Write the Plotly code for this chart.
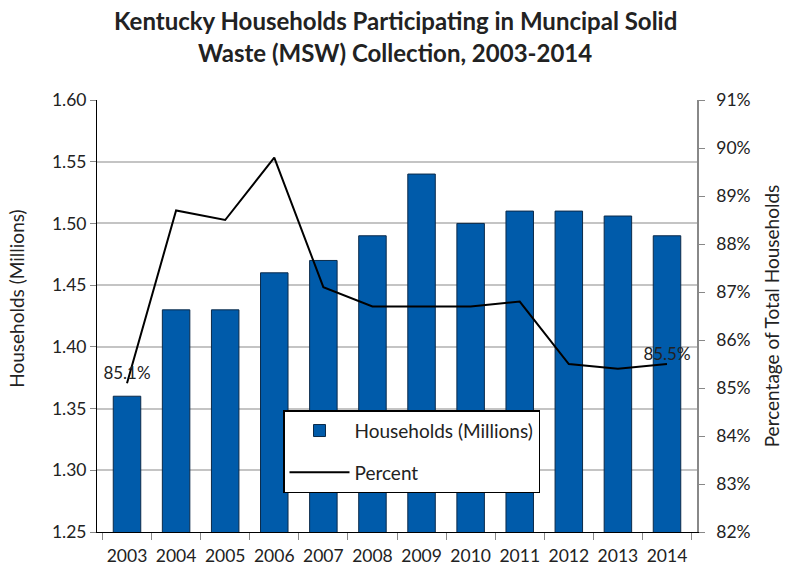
import plotly.graph_objects as go

years = ["2003", "2004", "2005", "2006", "2007", "2008", "2009", "2010", "2011", "2012", "2013", "2014"]
households = [1.36, 1.43, 1.43, 1.46, 1.47, 1.49, 1.54, 1.50, 1.51, 1.51, 1.506, 1.49]
percent = [85.1, 88.7, 88.5, 89.8, 87.1, 86.7, 86.7, 86.7, 86.8, 85.5, 85.4, 85.5]
pct_labels = ["85.1%", "", "", "", "", "", "", "", "", "", "", "85.5%"]
title_lines = ["Kentucky Households Participating in Muncipal Solid",
               "Waste (MSW) Collection, 2003-2014"]

font = "Lato, Open Sans, Liberation Sans, Arial"

fig = go.Figure()
fig.add_trace(go.Bar(
    x=years, y=households, name="Households (Millions)", legendgroup="a",
    marker=dict(color="#005BAA", line=dict(color="#0B2A4A", width=1)),
))
fig.add_trace(go.Scatter(
    x=years, y=percent, name="Percent", yaxis="y2", legendgroup="b",
    mode="lines+text", text=pct_labels, textposition="top center",
    textfont=dict(size=17, color="#222"),
    line=dict(color="black", width=2),
))

# two-line bold title
for line, ypos in zip(title_lines, [1.185, 1.1088]):
    fig.add_annotation(
        text="<b>" + line + "</b>", xref="paper", yref="paper",
        x=0.497, y=ypos, xanchor="center", yanchor="middle", showarrow=False,
        font=dict(size=24, color="#222", family=font),
    )

# left axis title
fig.add_annotation(
    text="Households (Millions)", xref="paper", yref="paper",
    x=-80 / 600, y=0.54, xanchor="center", yanchor="middle", showarrow=False,
    textangle=-90, font=dict(size=19, color="#222", family=font),
)

fig.update_layout(
    width=792, height=571,
    margin=dict(l=97, r=95, t=100, b=39),
    paper_bgcolor="white", plot_bgcolor="white",
    font=dict(family=font, size=17, color="#222"),
    bargap=0.44,
    showlegend=True,
    legend=dict(
        x=0.31, y=0.282, xanchor="left", yanchor="top",
        bgcolor="white", bordercolor="black", borderwidth=1.5,
        font=dict(size=19), traceorder="grouped", tracegroupgap=14,
        itemwidth=60,
    ),
    xaxis=dict(
        showline=True, linecolor="black", linewidth=1,
        ticks="outside", tickcolor="#888", ticklen=7, tickangle=0,
        tickson="boundaries", showgrid=False, automargin=False,
        tickfont=dict(size=17.5), ticklabelstandoff=8,
    ),
    yaxis=dict(
        range=[1.25, 1.60], dtick=0.05, tickformat=".2f",
        showline=True, linecolor="black", linewidth=1,
        ticks="outside", tickcolor="#888", ticklen=6,
        showgrid=True, gridcolor="#C4C4C4", gridwidth=2,
        zeroline=False, tickfont=dict(size=17.5), automargin=False,
    ),
    yaxis2=dict(
        range=[82, 91], dtick=1, ticksuffix="%",
        overlaying="y", side="right",
        showline=True, linecolor="#888", linewidth=1.5,
        ticks="outside", tickcolor="#888", ticklen=6, automargin=False,
        showgrid=False, zeroline=False, tickfont=dict(size=17.5),
        ticklabelstandoff=8,
        title=dict(text="Percentage of Total Households", font=dict(size=19), standoff=16),
    ),
)

fig.write_html("out.html", config={"displayModeBar": False},
               post_script="document.body.style.margin='0';")
